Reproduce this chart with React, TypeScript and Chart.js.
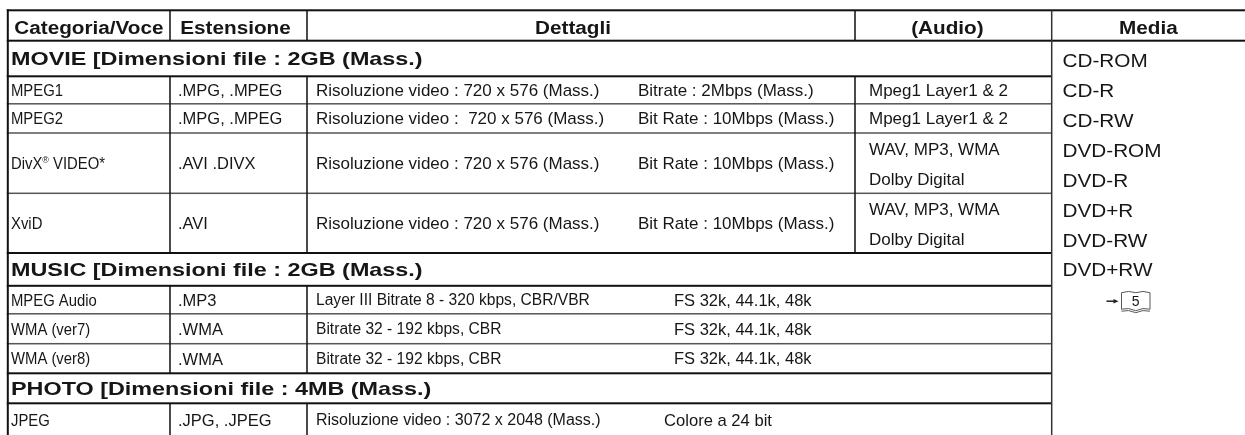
import React, { useEffect, useRef } from 'react';
import { Chart, registerables } from 'chart.js';

Chart.register(...registerables);

// ---------------- data ----------------
const headers = ['Categoria/Voce', 'Estensione', 'Dettagli', '(Audio)', 'Media'];
const sections = [
  'MOVIE [Dimensioni file : 2GB (Mass.)',
  'MUSIC [Dimensioni file : 2GB (Mass.)',
  'PHOTO [Dimensioni file : 4MB (Mass.)',
];
const sectionOf = [0, 0, 0, 0, 1, 1, 1, 2];
const categories = ['MPEG1', 'MPEG2', 'DivX® VIDEO*', 'XviD', 'MPEG Audio', 'WMA (ver7)', 'WMA (ver8)', 'JPEG'];
const extensions = ['.MPG, .MPEG', '.MPG, .MPEG', '.AVI .DIVX', '.AVI', '.MP3', '.WMA', '.WMA', '.JPG, .JPEG'];
const resolutions = [
  'Risoluzione video : 720 x 576 (Mass.)',
  'Risoluzione video :  720 x 576 (Mass.)',
  'Risoluzione video : 720 x 576 (Mass.)',
  'Risoluzione video : 720 x 576 (Mass.)',
  'Layer III Bitrate 8 - 320 kbps, CBR/VBR',
  'Bitrate 32 - 192 kbps, CBR',
  'Bitrate 32 - 192 kbps, CBR',
  'Risoluzione video : 3072 x 2048 (Mass.)',
];
const rates = [
  'Bitrate : 2Mbps (Mass.)',
  'Bit Rate : 10Mbps (Mass.)',
  'Bit Rate : 10Mbps (Mass.)',
  'Bit Rate : 10Mbps (Mass.)',
  'FS 32k, 44.1k, 48k',
  'FS 32k, 44.1k, 48k',
  'FS 32k, 44.1k, 48k',
  'Colore a 24 bit',
];
const audio = [
  ['Mpeg1 Layer1 & 2'],
  ['Mpeg1 Layer1 & 2'],
  ['WAV, MP3, WMA', 'Dolby Digital'],
  ['WAV, MP3, WMA', 'Dolby Digital'],
  [],
  [],
  [],
  [],
];
const media = ['CD-ROM', 'CD-R', 'CD-RW', 'DVD-ROM', 'DVD-R', 'DVD+R', 'DVD-RW', 'DVD+RW'];
const mediaPageRef = '5';

// ---------------- layout (table units) ----------------
const W = 1245;
const H = 435;
const colEdges = [7.8, 170, 307, 855, 1051.7, 1245];
const rowEdges = [10.3, 40.7, 76.3, 103.8, 133, 193.3, 253, 285.8, 313.8, 343.7, 373.3, 403.3, 436];
const headerDx = [0, -3, -8, -6, 0];
const catX = 11;
const extX = 178;
const detX = 316;
const rateX = [638, 674, 664];
const audioX = 869;
const mediaX = 1062.5;
const mediaTop = 60.5;
const mediaStep = 29.9;
const FONT = '"Liberation Sans", Arial, Helvetica, sans-serif';
const TEXT = '#161616';

type St = { size: number; bold?: boolean; sx: number };
const stHeader: St = { size: 18, bold: true, sx: 1.15 };
const stSection: St = { size: 19, bold: true, sx: 1.23 };
const stCat: St = { size: 16.5, sx: 0.9 };
const stExt: St = { size: 17, sx: 0.97 };
const stDetail: St[] = [{ size: 17, sx: 1 }, { size: 15.6, sx: 1 }, { size: 16, sx: 1 }];
const stRate: St[] = [{ size: 17, sx: 1 }, { size: 16.5, sx: 1 }, { size: 16.6, sx: 1 }];
const stAudio: St = { size: 17, sx: 1 };
const stMedia: St = { size: 18.5, sx: 1.12 };

type Row = { kind: 'header' } | { kind: 'sec'; idx: number } | { kind: 'item'; idx: number };
function buildRows(): Row[] {
  const rows: Row[] = [{ kind: 'header' }];
  let last = -1;
  categories.forEach((_, i) => {
    if (sectionOf[i] !== last) {
      last = sectionOf[i];
      rows.push({ kind: 'sec', idx: last });
    }
    rows.push({ kind: 'item', idx: i });
  });
  return rows;
}

function fontOf(st: St, scale = 1) {
  return `${st.bold ? 'bold ' : ''}${st.size * scale}px ${FONT}`;
}

function drawText(ctx: CanvasRenderingContext2D, s: string, x: number, capCenter: number, st: St, align: 'left' | 'center' = 'left') {
  const segs: { t: string; sup: boolean }[] = [];
  s.split('®').forEach((p, i, arr) => {
    if (p) segs.push({ t: p, sup: false });
    if (i < arr.length - 1) segs.push({ t: '®', sup: true });
  });
  ctx.save();
  ctx.fillStyle = TEXT;
  ctx.textBaseline = 'alphabetic';
  ctx.textAlign = 'left';
  let total = 0;
  const ws = segs.map((g) => {
    ctx.font = fontOf(st, g.sup ? 0.6 : 1);
    const w = ctx.measureText(g.t).width;
    total += w;
    return w;
  });
  const baseline = capCenter + st.size * 0.358;
  const start = align === 'center' ? x - (total * st.sx) / 2 : x;
  ctx.translate(start, baseline);
  ctx.scale(st.sx, 1);
  let cx = 0;
  segs.forEach((g, i) => {
    ctx.font = fontOf(st, g.sup ? 0.6 : 1);
    ctx.fillText(g.t, cx, g.sup ? -st.size * 0.33 : 0);
    cx += ws[i];
  });
  ctx.restore();
}

const tablePlugin = {
  id: 'tableCells',
  afterDraw(chart: any) {
    const ctx: CanvasRenderingContext2D = chart.ctx;
    const xs = chart.scales.x;
    const ys = chart.scales.y;
    const X = (v: number) => xs.getPixelForValue(v);
    const Y = (v: number) => ys.getPixelForValue(v);
    const rows = buildRows();

    ctx.save();
    ctx.fillStyle = '#ffffff';
    ctx.fillRect(X(0), Y(0), X(W) - X(0), Y(H) - Y(0));

    const hline = (x0: number, x1: number, y: number, w: number, c: string) => {
      ctx.fillStyle = c;
      ctx.fillRect(X(x0), Y(y) - w / 2, X(x1) - X(x0), w);
    };
    const vline = (x: number, y0: number, y1: number, w: number, c: string) => {
      ctx.fillStyle = c;
      ctx.fillRect(X(x) - w / 2, Y(y0), w, Y(y1) - Y(y0));
    };

    // horizontal rules
    for (let e = 0; e < rowEdges.length - 1; e++) {
      const y = rowEdges[e];
      if (e <= 1) {
        hline(colEdges[0] - 1, W, y, 2, '#111');
        continue;
      }
      const above = rows[e - 1];
      const below = rows[e];
      const strong = above.kind !== 'item' || below.kind !== 'item';
      hline(colEdges[0] - 1, colEdges[4], y, strong ? 2 : 1.5, strong ? '#111' : '#555');
    }
    // vertical rules
    vline(colEdges[0], rowEdges[0] - 1, H, 2, '#111');
    vline(colEdges[4], rowEdges[0], H, 1.5, '#333');
    rows.forEach((r, i) => {
      if (r.kind === 'sec') return;
      const hasAudio = r.kind === 'header' || audio[r.idx].length > 0;
      for (let c = 1; c <= 3; c++) {
        if (c === 3 && !hasAudio) continue;
        vline(colEdges[c], rowEdges[i], rowEdges[i + 1], 1.5, '#111');
      }
    });
    ctx.restore();

    // text
    rows.forEach((r, i) => {
      const top = rowEdges[i];
      const bot = rowEdges[i + 1];
      const mid = (top + bot) / 2;
      if (r.kind === 'header') {
        headers.forEach((h, c) => {
          const cx = (colEdges[c] + colEdges[c + 1]) / 2 + headerDx[c];
          drawText(ctx, h, X(cx), Y(mid + 2), stHeader, 'center');
        });
      } else if (r.kind === 'sec') {
        drawText(ctx, sections[r.idx], X(catX), Y(mid), stSection);
      } else {
        const k = r.idx;
        const tall = audio[k].length > 1;
        const cy = mid + (tall ? -0.5 : 0);
        const s = sectionOf[k];
        drawText(ctx, categories[k], X(catX), Y(cy), stCat);
        drawText(ctx, extensions[k], X(extX), Y(cy), stExt);
        drawText(ctx, resolutions[k], X(detX), Y(cy), stDetail[s]);
        drawText(ctx, rates[k], X(rateX[s]), Y(cy), stRate[s]);
        if (tall) {
          drawText(ctx, audio[k][0], X(audioX), Y(mid - 14), stAudio);
          drawText(ctx, audio[k][1], X(audioX), Y(mid + 16), stAudio);
        } else if (audio[k].length === 1) {
          drawText(ctx, audio[k][0], X(audioX), Y(cy), stAudio);
        }
      }
    });

    media.forEach((m, i) => {
      drawText(ctx, m, X(mediaX), Y(mediaTop + mediaStep * i), stMedia);
    });

    // page reference icon: arrow + open book with page number
    const iy = mediaTop + mediaStep * media.length + 1.5;
    ctx.save();
    ctx.strokeStyle = '#222';
    ctx.fillStyle = '#222';
    ctx.lineWidth = 1.5;
    ctx.beginPath();
    ctx.moveTo(X(1106.5), Y(iy));
    ctx.lineTo(X(1114), Y(iy));
    ctx.stroke();
    ctx.beginPath();
    ctx.moveTo(X(1118.5), Y(iy));
    ctx.lineTo(X(1113.5), Y(iy - 2.2));
    ctx.lineTo(X(1113.5), Y(iy + 2.2));
    ctx.closePath();
    ctx.fill();
    ctx.lineWidth = 0.9;
    ctx.strokeStyle = '#444';
    const bl = 1121.5, br = 1150, bm = (bl + br) / 2, bt = iy - 9.5, bb = iy + 8;
    ctx.beginPath();
    ctx.moveTo(X(bl), Y(bb));
    ctx.lineTo(X(bl), Y(bt + 1));
    ctx.quadraticCurveTo(X(bl + 7), Y(bt - 1.5), X(bm), Y(bt + 1));
    ctx.quadraticCurveTo(X(br - 7), Y(bt - 1.5), X(br), Y(bt + 1));
    ctx.lineTo(X(br), Y(bb));
    ctx.stroke();
    for (let k = 0; k < 2; k++) {
      const yy = bb + k * 2;
      ctx.beginPath();
      ctx.moveTo(X(bl), Y(yy));
      ctx.quadraticCurveTo(X(bl + 7), Y(yy - 2), X(bm), Y(yy + 1.5));
      ctx.quadraticCurveTo(X(br - 7), Y(yy - 2), X(br), Y(yy));
      ctx.stroke();
    }
    ctx.restore();
    drawText(ctx, mediaPageRef, X(bm), Y(iy - 0.5), { size: 14, sx: 1 }, 'center');
  },
};

export default function App() {
  const ref = useRef<HTMLCanvasElement | null>(null);
  useEffect(() => {
    if (!ref.current) return;
    const chart = new Chart(ref.current, {
      type: 'scatter',
      data: { datasets: [{ data: [], pointRadius: 0 }] },
      options: {
        animation: false,
        responsive: false,
        devicePixelRatio: 1,
        layout: { padding: 0 },
        events: [],
        plugins: { legend: { display: false }, tooltip: { enabled: false } },
        scales: {
          x: { type: 'linear', min: 0, max: W, display: false },
          y: { type: 'linear', min: 0, max: H, reverse: true, display: false },
        },
      },
      plugins: [tablePlugin],
    });
    return () => chart.destroy();
  }, []);
  return (
    <div style={{ width: W, height: H, overflow: 'hidden', background: '#fff' }}>
      <style>{'html,body{margin:0;padding:0;background:#fff;overflow:hidden}'}</style>
      <canvas ref={ref} width={W} height={H} style={{ display: 'block', width: W, height: H }} />
    </div>
  );
}
